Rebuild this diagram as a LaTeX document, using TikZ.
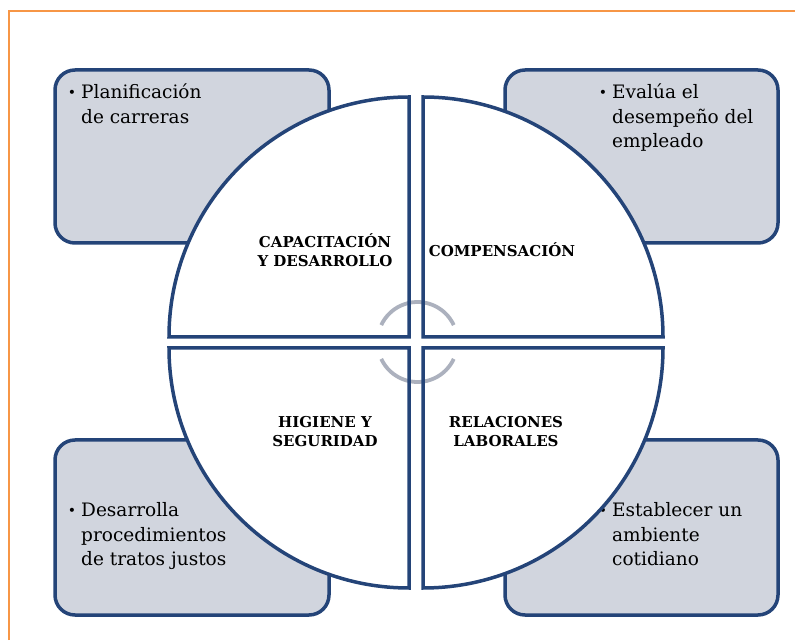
\documentclass[tikz,border=0pt]{standalone}
\usepackage{fontspec}
\setmainfont{DejaVu Serif}
\definecolor{bblue}{RGB}{36,68,120}
\definecolor{bfill}{RGB}{209,213,222}
\definecolor{arcgray}{RGB}{172,177,190}
\definecolor{frameor}{RGB}{247,150,70}
\tikzset{
  box/.style={draw=bblue, fill=bfill, line width=3.5pt, rounded corners=20pt, inner sep=0pt},
  quadfill/.style={fill=white},
  quadline/.style={draw=bblue, line width=3.5pt, line join=miter},
  bodytext/.style={anchor=base west, inner sep=0pt, font=\fontsize{18.5}{24.5}\selectfont, text=black},
  label/.style={anchor=base, inner sep=0pt, font=\fontsize{15}{19}\selectfont\bfseries, text=black},
  cyclearc/.style={draw=arcgray, line width=3.8pt}
}
\newcommand{\bul}{\llap{{\fontsize{14}{14}\selectfont\raisebox{1pt}{•}}\hspace{5pt}}}
\begin{document}
\begin{tikzpicture}[x=1pt,y=1pt]
\useasboundingbox (0,0) rectangle (795,640);
% orange frame
\draw[frameor, line width=1.5pt] (9,0) -- (9,629) -- (796,629);
% boxes
\node[box, minimum width=274pt, minimum height=173pt] (tl) at (192,483.5) {};
\node[box, minimum width=273pt, minimum height=173pt] (tr) at (641.5,483.5) {};
\node[box, minimum width=274pt, minimum height=175pt] (bl) at (192,112.5) {};
\node[box, minimum width=273pt, minimum height=175pt] (br) at (641.5,112.5) {};
% box texts
\node[bodytext] (ttl) at (81,541) {\begin{tabular}[t]{@{}l@{}}\bul Planificación\\de carreras\end{tabular}};
\node[bodytext] (ttr) at (612,541) {\begin{tabular}[t]{@{}l@{}}\bul Evalúa el\\desempeño del\\empleado\end{tabular}};
\node[bodytext] (tbl) at (81,123) {\begin{tabular}[t]{@{}l@{}}\bul Desarrolla\\procedimientos\\de tratos justos\end{tabular}};
\node[bodytext] (tbr) at (612,123) {\begin{tabular}[t]{@{}l@{}}\bul Establecer un\\ambiente\\cotidiano\end{tabular}};
% quadrant fills
\path[quadfill] (409,303) -- (169,303) arc[start angle=180,end angle=90,radius=240pt] -- cycle;
\path[quadfill] (423,303) -- (423,543) arc[start angle=90,end angle=0,radius=240pt] -- cycle;
\path[quadfill] (409,292) -- (409,52) arc[start angle=270,end angle=180,radius=240pt] -- cycle;
\path[quadfill] (423,292) -- (663,292) arc[start angle=0,end angle=-90,radius=240pt] -- cycle;
% cycle arcs
\coordinate (cc) at (417.5,298);
\draw[cyclearc] (cc) ++(25:40pt) arc[start angle=25,end angle=155,radius=40pt];
\draw[cyclearc] (cc) ++(205:40pt) arc[start angle=205,end angle=335,radius=40pt];
% quadrant outlines
\draw[quadline] (409,303) -- (169,303) arc[start angle=180,end angle=90,radius=240pt] -- cycle;
\draw[quadline] (423,303) -- (423,543) arc[start angle=90,end angle=0,radius=240pt] -- cycle;
\draw[quadline] (409,292) -- (409,52) arc[start angle=270,end angle=180,radius=240pt] -- cycle;
\draw[quadline] (423,292) -- (663,292) arc[start angle=0,end angle=-90,radius=240pt] -- cycle;
% labels
\node[label] (l1) at (325,392) {\begin{tabular}[t]{@{}c@{}}CAPACITACIÓN\\Y DESARROLLO\end{tabular}};
\node[label] (l2) at (502,383) {COMPENSACIÓN};
\node[label] (l3) at (325,212) {\begin{tabular}[t]{@{}c@{}}HIGIENE Y\\SEGURIDAD\end{tabular}};
\node[label] (l4) at (506,212) {\begin{tabular}[t]{@{}c@{}}RELACIONES\\LABORALES\end{tabular}};
\end{tikzpicture}
\end{document}
